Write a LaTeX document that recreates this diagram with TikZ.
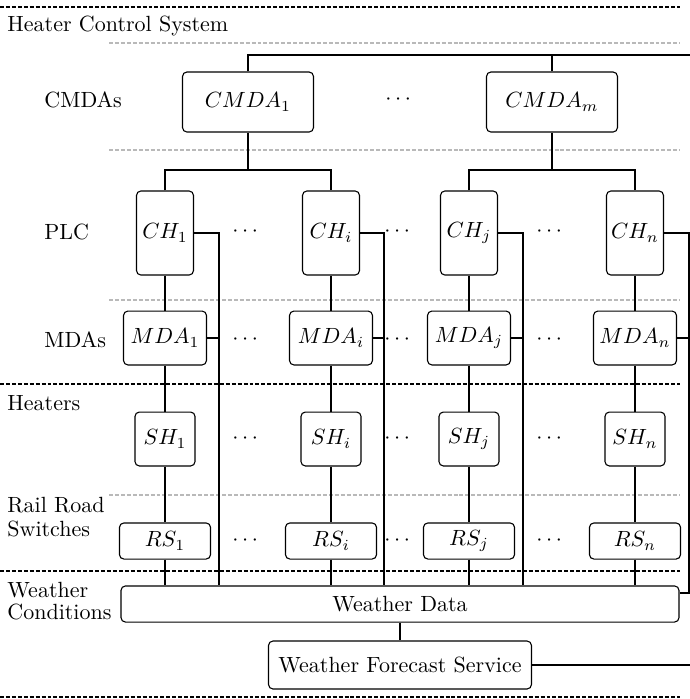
\documentclass[tikz,border=0pt]{standalone}
\usepackage{amsmath}
\begin{document}
\begin{tikzpicture}[x=0.4545pt,y=-0.4545pt,
  box/.style={draw, rounded corners=2pt, line width=0.5pt, inner sep=0pt, align=center},
  lbl/.style={anchor=west, inner sep=0pt, align=left},
  conn/.style={line width=0.5pt},
  blackdash/.style={line width=0.5pt, dash pattern=on 1.8pt off 0.9pt},
  graydash/.style={line width=0.5pt, gray!55, dash pattern=on 1.8pt off 0.9pt},
  chbox/.style={box, minimum width=25.9pt, minimum height=38.2pt},
  mdabox/.style={box, minimum width=37.7pt, minimum height=24.5pt},
  shbox/.style={box, minimum width=27.3pt, minimum height=24.5pt},
  rsbox/.style={box, minimum width=41.4pt, minimum height=16.4pt},
  cmdabox/.style={box, minimum width=59.5pt, minimum height=27.3pt}
]
\useasboundingbox (0,0) rectangle (690,699);

% layer separators
\coordinate (bl1) at (0,7);   \coordinate (br1) at (680,7);
\coordinate (bl2) at (0,384); \coordinate (br2) at (680,384);
\coordinate (bl3) at (0,571); \coordinate (br3) at (680,571);
\coordinate (bl4) at (0,697); \coordinate (br4) at (680,697);
\coordinate (gl1) at (109,43);  \coordinate (gr1) at (680,43);
\coordinate (gl2) at (109,150); \coordinate (gr2) at (680,150);
\coordinate (gl3) at (109,300); \coordinate (gr3) at (680,300);
\coordinate (gl4) at (109,495); \coordinate (gr4) at (680,495);
\draw[blackdash] (bl1) -- (br1);
\draw[blackdash] (bl2) -- (br2);
\draw[blackdash] (bl3) -- (br3);
\draw[blackdash] (bl4) -- (br4);
\draw[graydash] (gl1) -- (gr1);
\draw[graydash] (gl2) -- (gr2);
\draw[graydash] (gl3) -- (gr3);
\draw[graydash] (gl4) -- (gr4);

% layer labels
\node[lbl] (lhcs) at (7,26) {Heater Control System};
\node[lbl] (lcmda) at (44,100) {CMDAs};
\node[lbl] (lplc) at (44,232) {PLC};
\node[lbl] (lmda) at (44,340) {MDAs};
\node[lbl] (lheat) at (7,403) {Heaters};
\node[lbl] (lrrs) at (7,517) {Rail Road\\[-1pt]Switches};
\node[lbl] (lwc) at (7,601) {Weather\\[-2pt]Conditions};

% CMDAs
\node[cmdabox] (cmda1) at (248,102) {$CMDA_1$};
\node[cmdabox] (cmdam) at (552,102) {$CMDA_m$};
\node (dcm) at (400,100) {$\cdots$};

% PLC
\node[chbox] (ch1) at (165,233) {$CH_1$};
\node[chbox] (chi) at (331,233) {$CH_i$};
\node[chbox] (chj) at (469,233) {$CH_j$};
\node[chbox] (chn) at (635,233) {$CH_n$};

% MDAs
\node[mdabox] (mda1) at (165,338) {$MDA_1$};
\node[mdabox] (mdai) at (331,338) {$MDA_i$};
\node[mdabox] (mdaj) at (469,338) {$MDA_j$};
\node[mdabox] (mdan) at (635,338) {$MDA_n$};

% Heaters
\node[shbox] (sh1) at (165,439) {$SH_1$};
\node[shbox] (shi) at (331,439) {$SH_i$};
\node[shbox] (shj) at (469,439) {$SH_j$};
\node[shbox] (shn) at (635,439) {$SH_n$};

% Rail road switches
\node[rsbox] (rs1) at (165,541) {$RS_1$};
\node[rsbox] (rsi) at (331,541) {$RS_i$};
\node[rsbox] (rsj) at (469,541) {$RS_j$};
\node[rsbox] (rsn) at (635,541) {$RS_n$};

% weather
\node[box, minimum width=253.6pt, minimum height=16.4pt] (wd) at (400,604) {Weather Data};
\node[box, minimum width=119.5pt, minimum height=21.8pt] (wfs) at (400,665) {Weather Forecast Service};

% dots
\foreach \yy/\nm in {232/p, 340/m, 439/s, 541/r}{
  \node (d1\nm) at (247,\yy) {$\cdots$};
  \node (d2\nm) at (399,\yy) {$\cdots$};
  \node (d3\nm) at (551,\yy) {$\cdots$};
}

% coordinates for connectors
\coordinate (topR) at (690,55);
\coordinate (b1) at (248,170);
\coordinate (bm) at (552,170);
\coordinate (v1) at (219,233);
\coordinate (vi) at (384,233);
\coordinate (vj) at (523,233);
\coordinate (vn) at (689,233);
\coordinate (wfsR) at (690,665);
\coordinate (wdR) at ([yshift=5pt]wd.east);

% top connections
\draw[conn] (cmda1.north) |- (topR);
\draw[conn] (cmdam.north) -- (cmdam.north |- topR);
\draw[conn] (cmda1.south) -- (cmda1.south |- b1);
\draw[conn] (cmdam.south) -- (cmdam.south |- bm);
\draw[conn] (ch1.north) -- (ch1.north |- b1) -- (chi.north |- b1) -- (chi.north);
\draw[conn] (chj.north) -- (chj.north |- bm) -- (chn.north |- bm) -- (chn.north);

% vertical chains
\foreach \c in {1,i,j,n}{
  \draw[conn] (ch\c.south) -- (mda\c.north);
  \draw[conn] (mda\c.south) -- (sh\c.north);
  \draw[conn] (sh\c.south) -- (rs\c.north);
  \draw[conn] (rs\c.south) -- (rs\c.south |- wd.north);
}

% side lines to weather data
\draw[conn] (ch1.east) -| (v1 |- wd.north);
\draw[conn] (chi.east) -| (vi |- wd.north);
\draw[conn] (chj.east) -| (vj |- wd.north);
\draw[conn] (mda1.east) -- (mda1.east -| v1);
\draw[conn] (mdai.east) -- (mdai.east -| vi);
\draw[conn] (mdaj.east) -- (mdaj.east -| vj);
\draw[conn] (mdan.east) -- (mdan.east -| vn);
\draw[conn] (chn.east) -| (vn |- wdR) -- (wdR);

% weather
\draw[conn] (wd.south) -- (wfs.north);
\draw[conn] (wfs.east) -- (wfsR);
\end{tikzpicture}
\end{document}
